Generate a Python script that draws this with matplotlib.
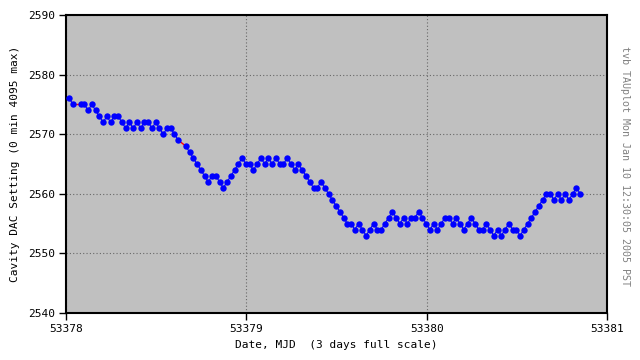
import matplotlib
matplotlib.use("Agg")
import matplotlib.pyplot as plt
import numpy as np

# samples every 30 minutes, starting shortly after MJD 53378
t_start = 53378.0183
step_days = 1.0 / 48.0

# DAC setting per sample (None = missing sample)
dac = [2576, 2575, None, 2575, 2575, 2574, 2575, 2574, 2573, 2572,
       2573, 2572, 2573, 2573, 2572, 2571, 2572, 2571, 2572, 2571,
       2572, 2572, 2571, 2572, 2571, 2570, 2571, 2571, 2570, 2569,
       None, 2568, 2567, 2566, 2565, 2564, 2563, 2562, 2563, 2563,
       2562, 2561, 2562, 2563, 2564, 2565, 2566, 2565, 2565, 2564,
       2565, 2566, 2565, 2566, 2565, 2566, 2565, 2565, 2566, 2565,
       2564, 2565, 2564, 2563, 2562, 2561, 2561, 2562, 2561, 2560,
       2559, 2558, 2557, 2556, 2555, 2555, 2554, 2555, 2554, 2553,
       2554, 2555, 2554, 2554, 2555, 2556, 2557, 2556, 2555, 2556,
       2555, 2556, 2556, 2557, 2556, 2555, 2554, 2555, 2554, 2555,
       2556, 2556, 2555, 2556, 2555, 2554, 2555, 2556, 2555, 2554,
       2554, 2555, 2554, 2553, 2554, 2553, 2554, 2555, 2554, 2554,
       2553, 2554, 2555, 2556, 2557, 2558, 2559, 2560, 2560, 2559,
       2560, 2559, 2560, 2559, 2560, 2561, 2560]

x_ticks = [53378, 53379, 53380, 53381]
y_ticks = [2540, 2550, 2560, 2570, 2580, 2590]

mono = 'DejaVu Sans Mono'

y = np.array([np.nan if v is None else v for v in dac], dtype=float)
t = t_start + step_days * np.arange(len(y))

fig = plt.figure(figsize=(6.4, 3.6), dpi=100)
ax = fig.add_axes([66 / 640, 47 / 360, 541 / 640, 298 / 360])
ax.set_facecolor('#c0c0c0')

# red bridges across missing samples
good = ~np.isnan(y)
idx = np.where(good)[0]
for a, b in zip(idx[:-1], idx[1:]):
    if b - a > 1:
        ax.plot([t[a], t[b]], [y[a], y[b]], color='red', lw=1, zorder=2)

ax.plot(t, y, color='blue', lw=0.8, marker='o', markersize=4.6,
        markeredgewidth=0, zorder=3)

ax.set_xlim(x_ticks[0], x_ticks[-1])
ax.set_ylim(y_ticks[0], y_ticks[-1])
ax.set_xticks(x_ticks)
ax.set_yticks(y_ticks)
ax.grid(True, color='#686868', linestyle=(0, (1, 2)), linewidth=0.8)
ax.set_axisbelow(True)

for s in ax.spines.values():
    s.set_color('black')
    s.set_linewidth(1.5)

ax.tick_params(direction='out', length=5, width=1, labelsize=8,
               colors='black', pad=3)
for lab in ax.get_xticklabels() + ax.get_yticklabels():
    lab.set_family(mono)

ax.set_xlabel('Date, MJD  (3 days full scale)', family=mono, fontsize=8,
              labelpad=4)
ax.set_ylabel('Cavity DAC Setting (0 min 4095 max)', family=mono,
              fontsize=8, labelpad=6)

fig.text(625 / 640, 0.54, 'tvb TAUplot Mon Jan 10 12:30:05 2005 PST',
         rotation=-90, ha='center', va='center', family=mono, fontsize=7.2,
         color='#808080')

fig.savefig('out.png', dpi=100)
